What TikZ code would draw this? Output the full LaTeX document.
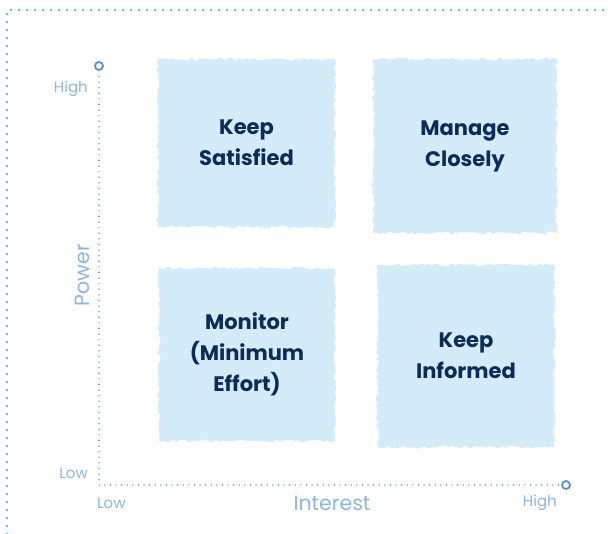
\documentclass[tikz,border=0pt]{standalone}
\usepackage{fontspec}
\setmainfont{Poppins}
\usepackage{tikz}
\usetikzlibrary{decorations.pathmorphing}
\definecolor{Navy}{HTML}{0D2B57}
\definecolor{Wash}{HTML}{D4EBFA}
\definecolor{AxisBlue}{HTML}{5E90BE}
\definecolor{LabelBlue}{HTML}{8DB6DA}
\definecolor{FrameBlue}{HTML}{5CBDEA}

\begin{document}
\begin{tikzpicture}[x=1pt,y=-1pt,
  quad/.style={rectangle,fill=Wash,inner sep=0pt,minimum width=177pt,minimum height=168pt,
    decorate,decoration={random steps,segment length=3pt,amplitude=1.5pt},
    text=Navy,align=center,font=\fontsize{21}{31}\selectfont\bfseries},
  axisdots/.style={AxisBlue,line width=1.6pt,line cap=round,dash pattern=on 0pt off 5.6pt},
  framedots/.style={FrameBlue,line width=2.6pt,line cap=round,dash pattern=on 0pt off 8pt},
  endring/.style={circle,draw=AxisBlue,line width=1.8pt,fill=white,minimum size=8pt,inner sep=0pt},
  ticklab/.style={text=LabelBlue,font=\fontsize{15}{17}\selectfont,inner sep=0pt},
  axislab/.style={text=LabelBlue,font=\fontsize{20.5}{24}\selectfont,inner sep=0pt}]
\pgfmathsetseed{7}
\useasboundingbox (0,0) rectangle (608,534);
% dotted frame
\coordinate (fbot) at (7,534);
\coordinate (fcorner) at (7,10);
\coordinate (fright) at (608,10);
\draw[framedots] (fbot) -- (fcorner) -- (fright);
% quadrants
\node[quad] (satisfied) at (246.5,143) {Keep\\Satisfied};
\node[quad,minimum width=183pt,minimum height=174pt] (manage) at (465,146) {Manage\\Closely};
\node[quad,minimum width=176pt,minimum height=173pt] (monitor) at (247,354.5) {Monitor\\(Minimum\\Effort)};
\node[quad,minimum width=177pt,minimum height=182pt] (informed) at (466,356) {Keep\\Informed};
% axes
\coordinate (origin) at (99,485);
\node[endring] (ytop) at (99,66) {};
\node[endring] (xend) at (566,485) {};
\draw[axisdots] (ytop) -- (origin) -- (xend);
\node[ticklab,anchor=east] (yhigh) at (88,89) {High};
\node[ticklab,anchor=east] (ylow) at (88,473) {Low};
\node[ticklab,anchor=west] (xlow) at (97,503) {Low};
\node[ticklab,anchor=east] (xhigh) at (557,503) {High};
\node[axislab] (interest) at (332,503) {Interest};
\node[axislab,rotate=90] (power) at (82,275) {Power};
\end{tikzpicture}
\end{document}
